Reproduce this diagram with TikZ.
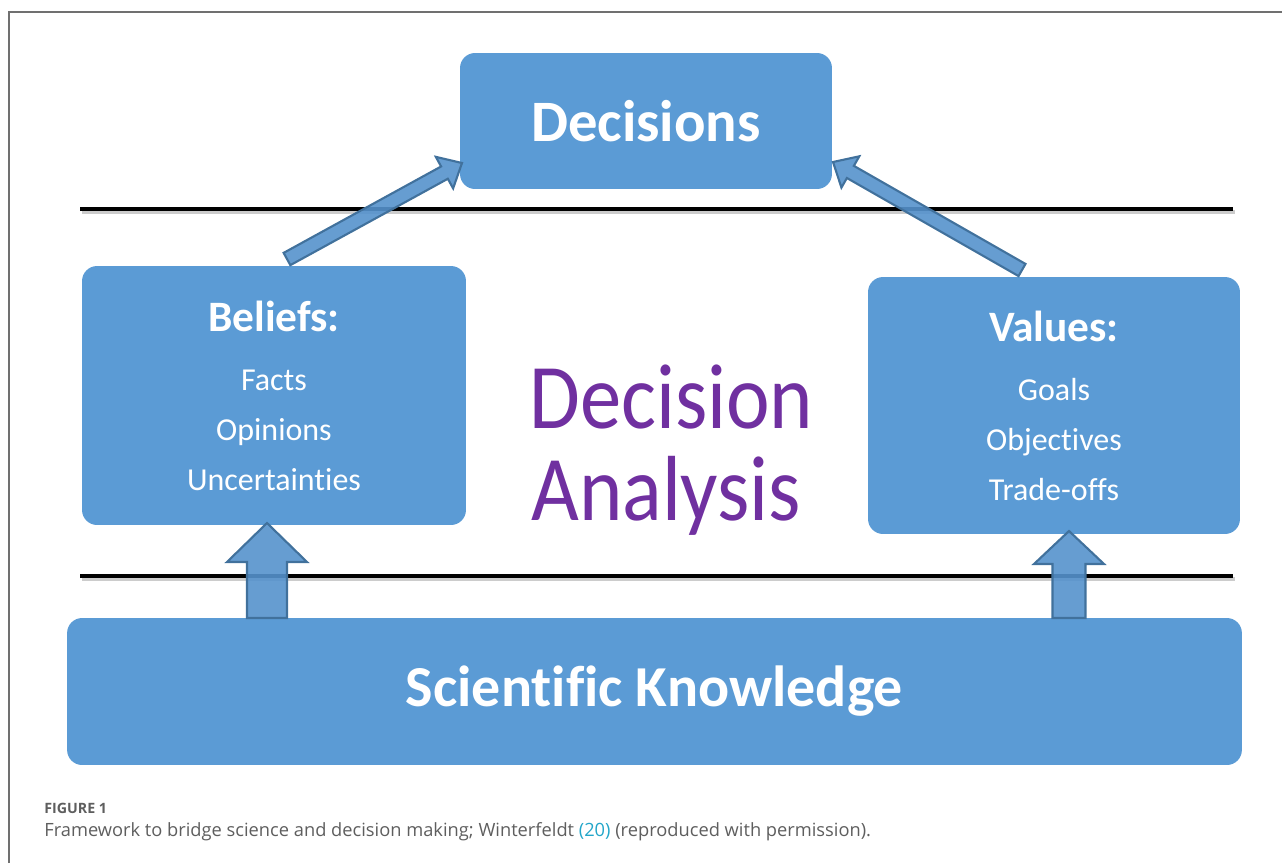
\documentclass[tikz,border=0pt]{standalone}
\usepackage{fontspec}
\setmainfont{Carlito}[Ligatures=NoCommon]
\newfontfamily\captionfont{Open Sans}
\usetikzlibrary{calc}

\definecolor{boxblue}{HTML}{5B9BD5}
\definecolor{arrowfill}{HTML}{5592CC}
\definecolor{arrowedge}{HTML}{41719C}
\definecolor{dapurple}{HTML}{7030A0}
\definecolor{capgray}{HTML}{5E5E5E}
\definecolor{citeblue}{HTML}{23A6C9}
\definecolor{framegray}{HTML}{707070}

\tikzset{
  panel/.style={fill=boxblue, rounded corners=0.3cm, text=white, align=center, inner sep=0pt},
  blockarr/.style={fill=arrowfill, fill opacity=0.9, draw=arrowedge, line width=1.2pt, line join=miter},
  divider/.style={line width=2.3pt, black},
  dividershade/.style={line width=2.3pt, black!20},
  captext/.style={anchor=base west, inner sep=0pt, text=capgray},
}

% #1 tail, #2 tip, #3 half shaft, #4 half head, #5 head length
\newcommand{\blockarrow}[5]{%
  \draw[blockarr] ($(#1)!#3!90:(#2)$) -- ($(#2)!#5!(#1)!#3!90:(#2)$)
    -- ($(#2)!#5!(#1)!#4!90:(#2)$) -- (#2)
    -- ($(#2)!#5!(#1)!#4!-90:(#2)$) -- ($(#2)!#5!(#1)!#3!-90:(#2)$)
    -- ($(#1)!#3!-90:(#2)$) -- cycle;}

\begin{document}
\begin{tikzpicture}[x=0.02cm, y=0.02cm]
\useasboundingbox (0,0) rectangle (1282,-863);
\draw[framegray, line width=0.6pt] (9,-863) -- (9,-12) -- (1282,-12);

\node[panel, minimum width=7.44cm, minimum height=2.72cm,
  font=\fontsize{33.4}{40}\selectfont\bfseries] (dec) at (646,-121) {Decisions};
\node[panel, minimum width=7.68cm, minimum height=5.18cm,
  font=\fontsize{18.2}{28.45}\selectfont] (bel) at (274,-395.5)
  {\textbf{\fontsize{24.7}{30}\selectfont Beliefs:}\\[5.1pt] Facts\\ Opinions\\ Uncertainties};
\node[panel, minimum width=7.44cm, minimum height=5.14cm,
  font=\fontsize{18.2}{28.45}\selectfont] (val) at (1054,-405.5)
  {\textbf{\fontsize{24.7}{30}\selectfont Values:}\\[5.1pt] Goals\\ Objectives\\ Trade-offs};
\node[panel, minimum width=23.5cm, minimum height=2.94cm,
  font=\fontsize{33}{40}\selectfont\bfseries] (sci) at (654.5,-691.5) {Scientific Knowledge};

\node[anchor=base west, inner sep=0pt, text=dapurple, font=\fontsize{47}{52}\selectfont]
  (da1) at (529,-428) {\scalebox{1}[1.12]{Decision}};
\node[anchor=base west, inner sep=0pt, text=dapurple, font=\fontsize{47}{52}\selectfont]
  (da2) at (531,-520) {\scalebox{1}[1.12]{Analysis}};

\coordinate (topL) at (80,-209);
\coordinate (topR) at (1233,-209);
\coordinate (lowL) at (80,-576);
\coordinate (lowR) at (1233,-576);
\draw[dividershade] ($(topL)+(2,-3)$) -- ($(topR)+(2,-3)$);
\draw[dividershade] ($(lowL)+(2,-3)$) -- ($(lowR)+(2,-3)$);
\draw[divider] (topL) -- (topR);
\draw[divider] (lowL) -- (lowR);

\coordinate (belT) at (287,-259);
\coordinate (belH) at (462,-163);
\coordinate (valT) at (1022,-270);
\coordinate (valH) at (833,-162);
\coordinate (sciL) at (267,-618);
\coordinate (belB) at (267,-523);
\coordinate (sciR) at (1069,-618);
\coordinate (valB) at (1069,-531);

\blockarrow{belT}{belH}{0.14cm}{0.36cm}{0.4cm}
\blockarrow{valT}{valH}{0.14cm}{0.36cm}{0.4cm}
\blockarrow{sciL}{belB}{0.4cm}{0.8cm}{0.78cm}
\blockarrow{sciR}{valB}{0.33cm}{0.7cm}{0.66cm}

\node[captext, font=\captionfont\bfseries\fontsize{8.1}{9}\selectfont] (fig) at (44,-813) {FIGURE 1};
\node[captext, font=\captionfont\fontsize{10.4}{12}\selectfont] (cap) at (44,-836)
  {Framework to bridge science and decision making; Winterfeldt \textcolor{citeblue}{(20)} (reproduced with permission).};
\end{tikzpicture}
\end{document}
